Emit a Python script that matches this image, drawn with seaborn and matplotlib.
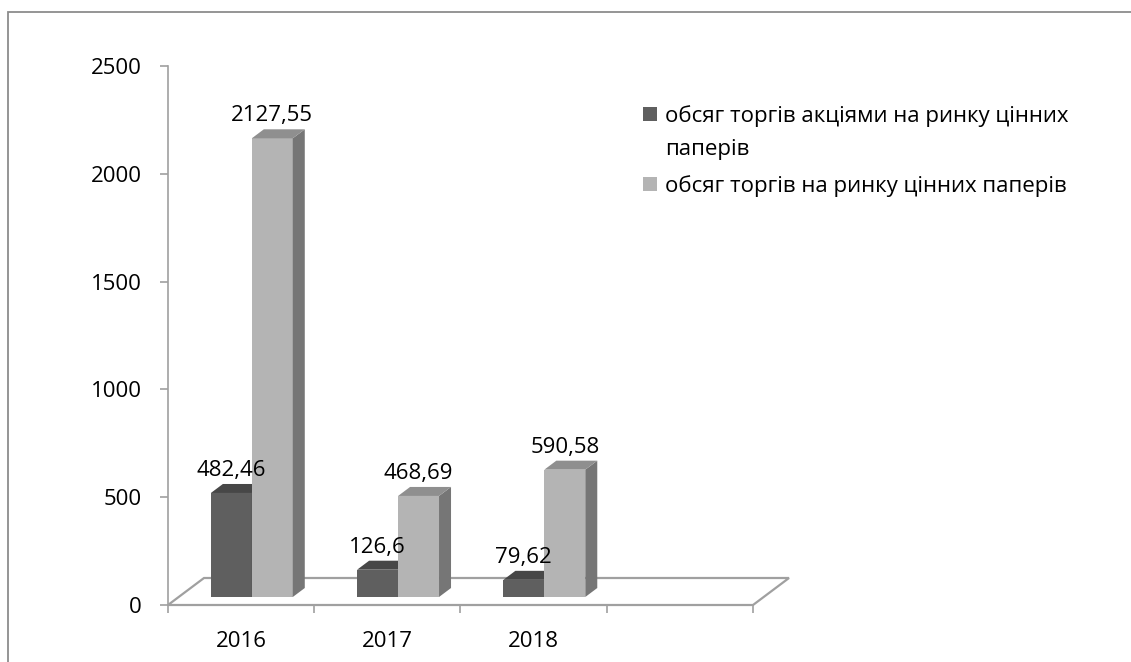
import numpy as np
import pandas as pd
import matplotlib
matplotlib.use("Agg")
import matplotlib.pyplot as plt
import seaborn as sns
from matplotlib.transforms import ScaledTranslation, IdentityTransform
from matplotlib.patches import Polygon, Rectangle

# ---------------- data ----------------
years = ["2016", "2017", "2018"]
shares_volume = [482.46, 126.6, 79.62]
total_volume = [2127.55, 468.69, 590.58]
series = ["обсяг торгів акціями на ринку цінних паперів",
          "обсяг торгів на ринку цінних паперів"]
legend_lines = [["обсяг торгів акціями на ринку цінних", "паперів"],
                ["обсяг торгів на ринку цінних паперів"]]
y_ticks = [0, 500, 1000, 1500, 2000, 2500]

# ---------------- style ----------------
front_col = ["#5f5f5f", "#b4b4b4"]
top_col = ["#474747", "#8f8f8f"]
side_col = ["#4a4a4a", "#767676"]
axis_col = "#a0a0a0"
FS = 16

W, H = 1131, 662
sns.set_style("white")
plt.rcParams["font.family"] = ["Open Sans", "DejaVu Sans"]

fig = plt.figure(figsize=(W / 100, H / 100), dpi=100)


def fx(px):
    return px / W


def fy(py):
    return 1 - py / H


ax = fig.add_axes([fx(168), fy(605), fx(753) - fx(168), fy(66) - fy(605)])

df = pd.DataFrame({
    "year": years * 2,
    "series": [series[0]] * len(years) + [series[1]] * len(years),
    "value": shares_volume + total_volume,
})
sns.barplot(data=df, x="year", y="value", hue="series", order=years,
            hue_order=series, palette=front_col, saturation=1, width=0.56,
            linewidth=0, legend=False, ax=ax)

ax.set_xlim(-0.5, 3.5)
ax.set_ylim(0, 2500)
ax.set_xlabel("")
ax.set_ylabel("")
ax.set_yticks(y_ticks)
ax.set_yticklabels([str(t) for t in y_ticks])
ax.set_xticks(range(len(years)))
ax.set_xticklabels(years)
ax.set_xticks(np.arange(-0.5, 3.51, 1.0), minor=True)
px2pt = 0.72
ax.tick_params(axis="y", which="major", left=True, direction="out",
               length=8 * px2pt, width=1.2, color=axis_col, pad=18 * px2pt,
               labelsize=FS, labelcolor="black")
ax.tick_params(axis="x", which="major", bottom=True, length=0,
               pad=26 * px2pt, labelsize=FS, labelcolor="black")
ax.tick_params(axis="x", which="minor", bottom=True, direction="out",
               length=8 * px2pt, width=1.2, color=axis_col)
for s in ["top", "right"]:
    ax.spines[s].set_visible(False)
for s in ["left", "bottom"]:
    ax.spines[s].set_color(axis_col)
    ax.spines[s].set_linewidth(1.2)
ax.grid(False)
ax.set_facecolor("none")

# ---------------- 3D floor ----------------
floor_depth = np.array([36.0, 27.0])
fl = ax.transAxes.transform((0, 0))
fr = ax.transAxes.transform((1, 0))
floor = Polygon([fl, fr, fr + floor_depth, fl + floor_depth], closed=True,
                transform=IdentityTransform(), facecolor="white",
                edgecolor=axis_col, linewidth=1.6, zorder=0.5, clip_on=False)
ax.add_artist(floor)

# ---------------- 3D bars ----------------
front_shift = np.array([10.7, 8.0])  # pixels: bars sit inside the floor
bar_depth = np.array([12.0, 9.0])
off = ScaledTranslation(front_shift[0] / 100, front_shift[1] / 100,
                        fig.dpi_scale_trans)

bars = []
for i, cont in enumerate(ax.containers):
    for p in cont.patches:
        bars.append((p.get_x(), i, p))
bars.sort(key=lambda t: t[0])

for k, (_, i, p) in enumerate(bars):
    z = 2 + 0.1 * k
    p.set_transform(ax.transData + off)
    p.set_clip_on(False)
    p.set_zorder(z)
    x0 = p.get_x()
    x1 = x0 + p.get_width()
    h = p.get_height()
    pts = ax.transData.transform([(x0, 0), (x1, 0), (x0, h), (x1, h)]) + front_shift
    bl, br, tl, tr = pts
    side = Polygon([br, tr, tr + bar_depth, br + bar_depth], closed=True,
                   transform=IdentityTransform(), facecolor=side_col[i],
                   edgecolor="none", zorder=z, clip_on=False)
    top = Polygon([tl, tr, tr + bar_depth, tl + bar_depth], closed=True,
                  transform=IdentityTransform(), facecolor=top_col[i],
                  edgecolor="none", zorder=z, clip_on=False)
    ax.add_artist(side)
    ax.add_artist(top)
    label = f"{h:g}".replace(".", ",")
    ax.annotate(label, xy=((x0 + x1) / 2, h), xycoords=ax.transData + off,
                xytext=(0, 17 * px2pt), textcoords="offset points",
                ha="center", va="baseline", fontsize=FS, color="black",
                zorder=10, annotation_clip=False)

# ---------------- legend ----------------
legend_baselines = [[122, 155], [192]]
for i, lines in enumerate(legend_lines):
    b0 = legend_baselines[i][0]
    fig.add_artist(Rectangle((fx(643), fy(b0 - 1)), 14 / W, 14 / H,
                             transform=fig.transFigure, facecolor=front_col[i],
                             edgecolor="none"))
    for line, b in zip(lines, legend_baselines[i]):
        fig.text(fx(665), fy(b), line, ha="left", va="baseline", fontsize=FS,
                 color="black")

# ---------------- outer frame ----------------
fig.add_artist(Rectangle((fx(8), -0.05), 1.1, fy(12) + 0.05,
                         transform=fig.transFigure, fill=False,
                         edgecolor="#8c8c8c", linewidth=1.3))

fig.savefig("out.png", dpi=100)
